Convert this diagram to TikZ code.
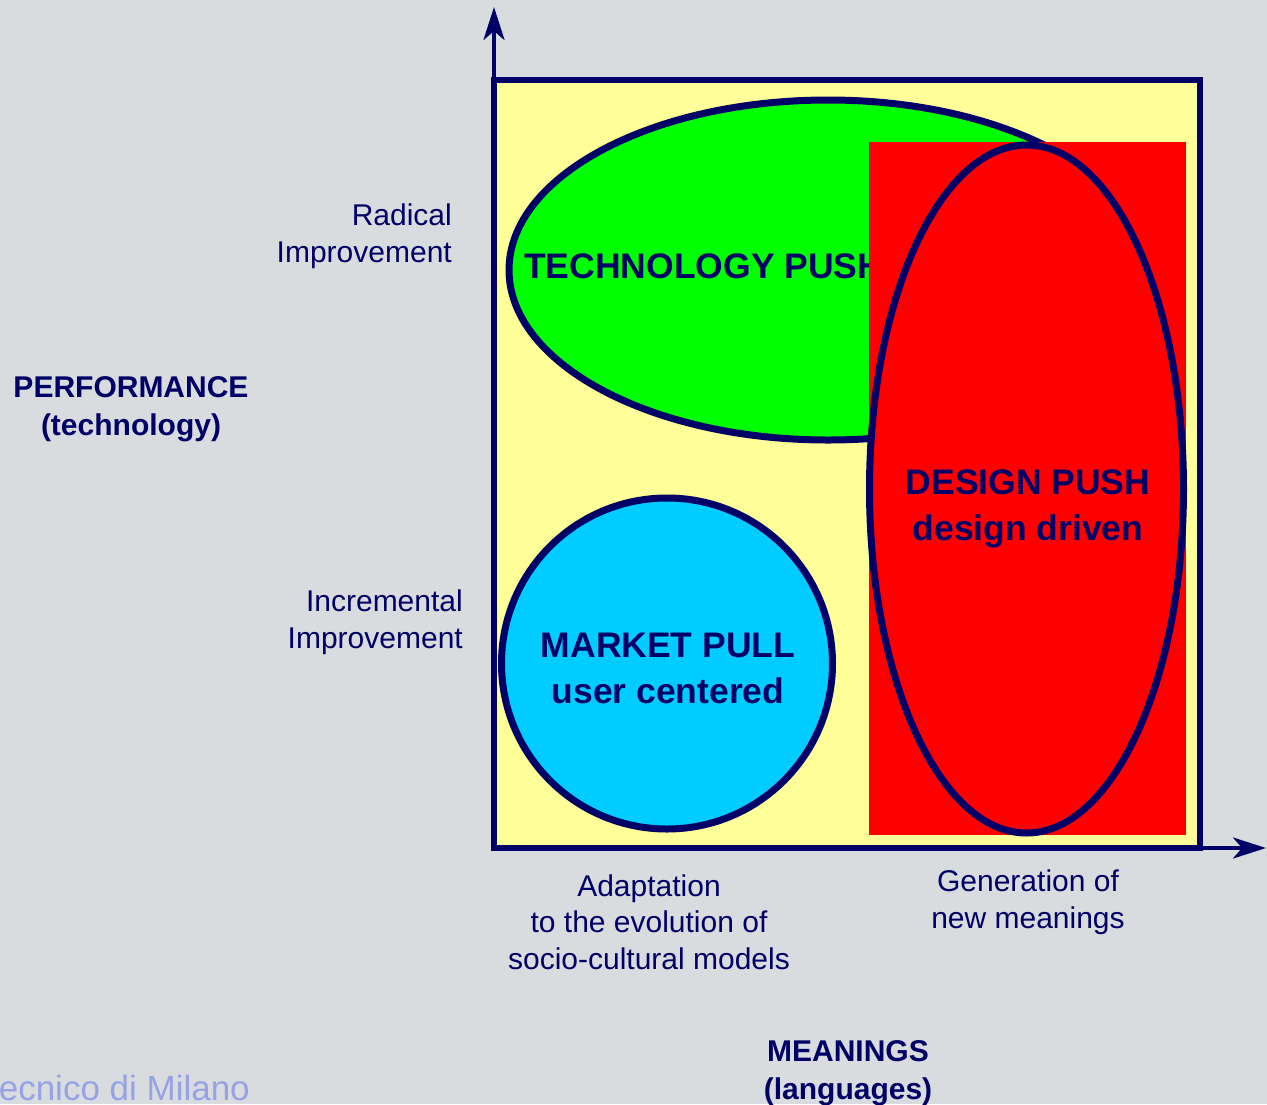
\documentclass[tikz,border=0pt]{standalone}
\usepackage{fontspec}
\setmainfont{Liberation Sans}
\usetikzlibrary{shapes.geometric,arrows.meta}
\definecolor{bg}{RGB}{216,220,223}
\definecolor{navy}{RGB}{0,0,102}
\definecolor{yel}{RGB}{255,255,153}
\definecolor{grn}{RGB}{0,255,0}
\definecolor{rd}{RGB}{255,0,0}
\definecolor{cy}{RGB}{0,204,255}
\definecolor{wm}{RGB}{150,162,228}
\begin{document}
\begin{tikzpicture}[x=1pt,y=-1pt,
  blob/.style={draw=navy,line width=7pt,inner sep=0pt},
  axis/.style={draw=navy,line width=3.5pt,-{Stealth[length=33pt,width=21pt,inset=9pt]}},
  lbl/.style={text=navy,inner sep=0pt,font=\fontsize{30}{36.5}\selectfont},
  blbl/.style={text=navy,inner sep=0pt,font=\fontsize{30}{38}\selectfont\bfseries,align=center},
  big/.style={text=navy,inner sep=0pt,font=\fontsize{35.5}{46}\selectfont\bfseries,align=center}]
\useasboundingbox (0,0) rectangle (1267,1104);
\clip (0,0) rectangle (1267,1104);
\fill[bg] (0,0) rectangle (1267,1104);
% frame
\node[draw=navy,fill=yel,line width=6.5pt,minimum width=706pt,minimum height=768pt,inner sep=0pt] (box) at (847,464) {};
% technology push
\node[blob,fill=grn,ellipse,minimum width=638pt,minimum height=340pt] (tech) at (828,270) {};
\node[big,anchor=base west] (techtxt) at (524,278) {TECHNOLOGY PUSH};
% red area
\node[fill=rd,minimum width=317pt,minimum height=693pt,inner sep=0pt] (redrect) at (1027.5,488.5) {};
\node[blob,fill=rd,ellipse,minimum width=314pt,minimum height=688pt] (design) at (1026.5,489) {};
\node[big] (designtxt) at (1028,509) {DESIGN PUSH\\design driven};
% market pull
\node[blob,fill=cy,circle,minimum size=331pt] (market) at (667,663.5) {};
\node[big] (markettxt) at (668,668) {MARKET PULL\\user centered};
% axes
\coordinate (o) at (494,848);
\coordinate (ytip) at (494,7);
\coordinate (xtip) at (1266,848);
\draw[axis] (o) -- (ytip);
\draw[axis] (o) -- (xtip);
% labels
\node[lbl,align=right,anchor=east] (radical) at (452,236) {Radical\\Improvement};
\node[lbl,align=right,anchor=east] (incr) at (463,622) {Incremental\\Improvement};
\node[blbl] (perf) at (131,409) {PERFORMANCE\\(technology)};
\node[lbl,align=center] (adapt) at (649,922) {Adaptation\\to the evolution of\\socio-cultural models};
\node[lbl,align=center] (gen) at (1028,902) {Generation of\\new meanings};
\node[blbl] (mean) at (848,1073) {MEANINGS\\(languages)};
\node[text=wm,inner sep=0pt,anchor=base east,font=\fontsize{35}{40}\selectfont] (polimi) at (250,1100) {Politecnico di Milano};
\end{tikzpicture}
\end{document}
